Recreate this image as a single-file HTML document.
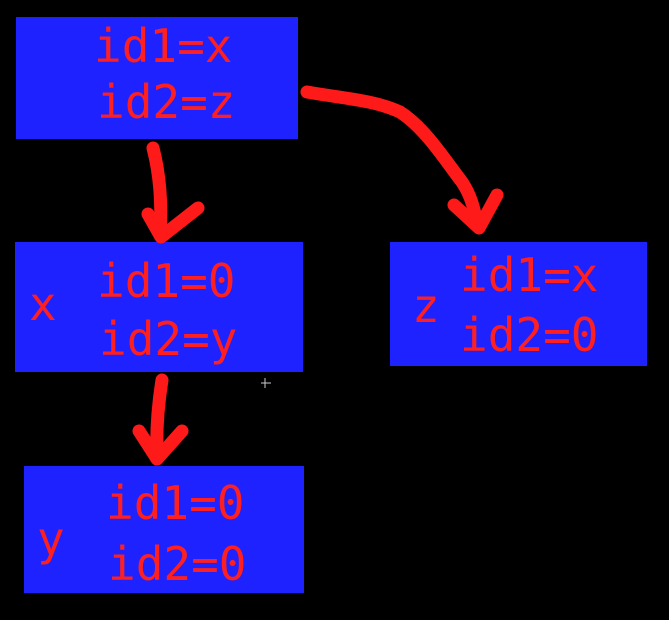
<!DOCTYPE html>
<html><head><meta charset="utf-8"><style>
html,body{margin:0;padding:0;background:#000;width:669px;height:620px;overflow:hidden}
svg{display:block}
text{font-family:"DejaVu Sans Mono","Liberation Mono",monospace;font-size:46px;fill:#ff1f1f}
</style></head><body>
<svg width="669" height="620" viewBox="0 0 669 620">
<rect x="0" y="0" width="669" height="620" fill="#000"/>
<rect x="16" y="17" width="282" height="122" fill="#1e22ff"/>
<rect x="15" y="242" width="288" height="130" fill="#1e22ff"/>
<rect x="390" y="242" width="257" height="124" fill="#1e22ff"/>
<rect x="24" y="466" width="280" height="127" fill="#1e22ff"/>

<text x="94" y="62">id1=x</text>
<text x="97" y="118">id2=z</text>

<text x="29" y="320">x</text>
<text x="97" y="297">id1=0</text>
<text x="99" y="355">id2=y</text>

<text x="412" y="322">z</text>
<text x="460" y="291">id1=x</text>
<text x="460" y="351">id2=0</text>

<text x="37" y="555">y</text>
<text x="106" y="519">id1=0</text>
<text x="108" y="580">id2=0</text>

<g fill="none" stroke="#ff1a1a" stroke-width="13" stroke-linecap="round" stroke-linejoin="round">
<path d="M153,148 C160,175 162,205 160,235"/>
<path d="M148,214 L161,237 L198,208"/>
<path d="M307,92 C340,98 375,100 400,112 C425,128 445,160 462,182 C472,197 474,210 478,226"/>
<path d="M454,205 L479,228 L497,195"/>
<path d="M162,380 C158,405 156,430 157,457"/>
<path d="M139,431 L157,459 L182,431"/>
</g>
<g stroke="#ccc" stroke-width="1">
<line x1="261" y1="383" x2="271" y2="383"/><line x1="265" y1="378" x2="265" y2="388"/>
</g>
</svg>
</body></html>
